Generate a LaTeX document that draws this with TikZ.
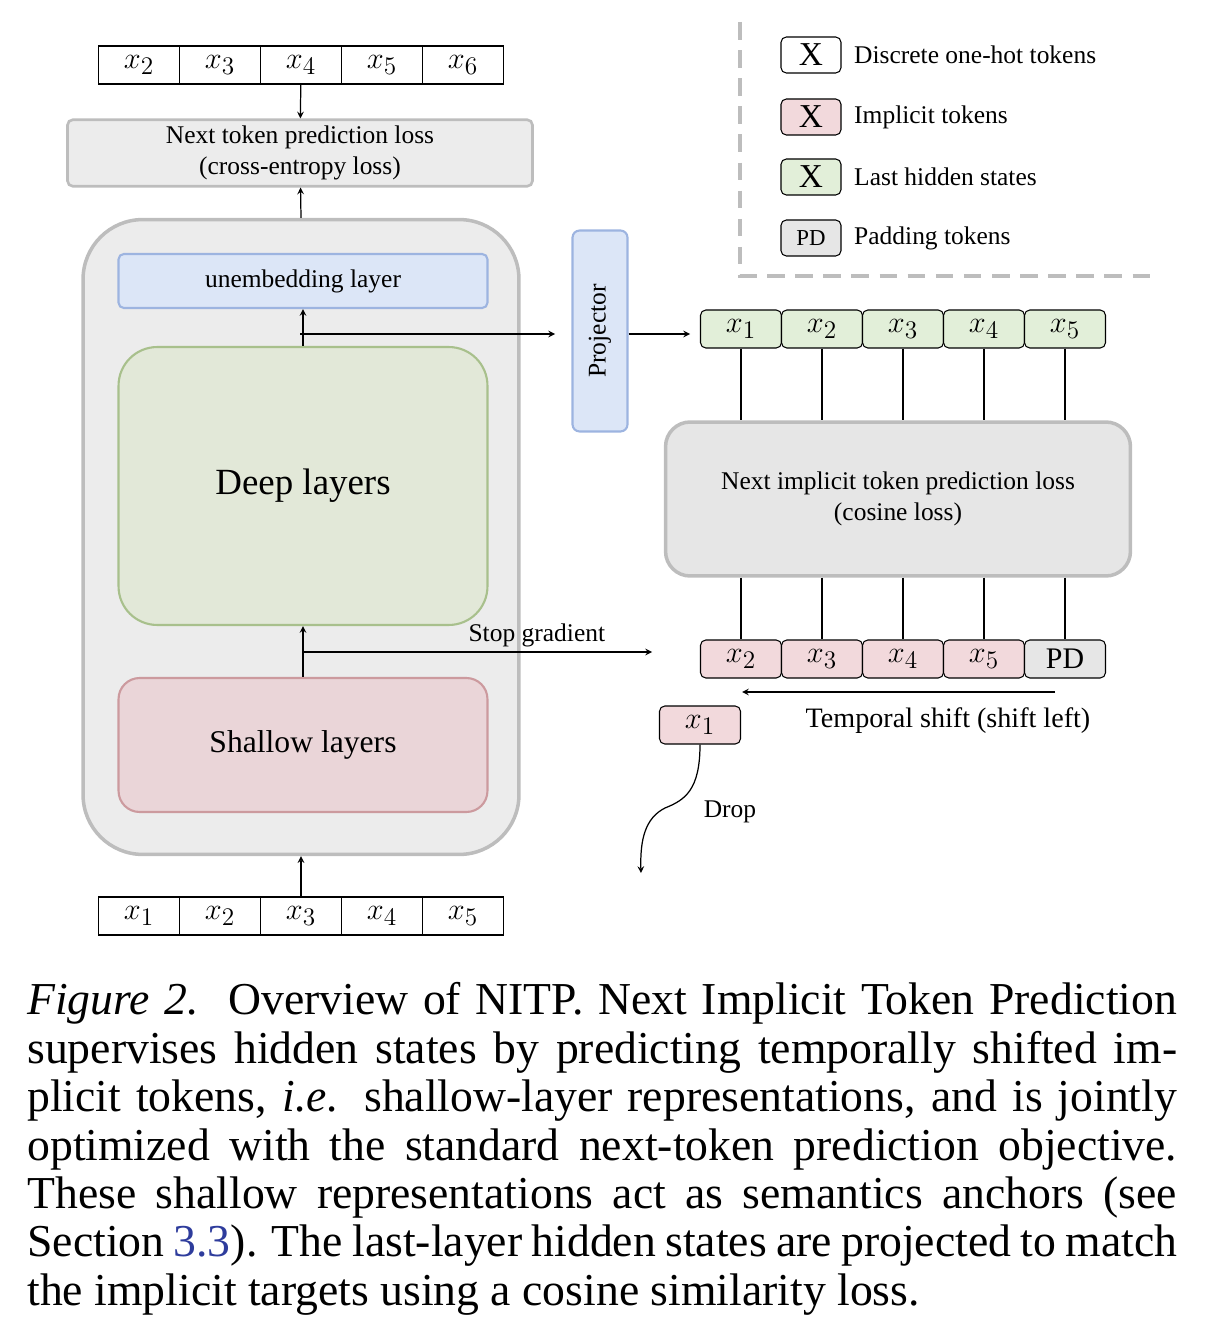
\documentclass[tikz,border=0pt]{standalone}
\usepackage{fontspec}
\setmainfont{Liberation Serif}
\usepackage{xcolor}
\usetikzlibrary{arrows}
\definecolor{outerfill}{HTML}{ECECEC}
\definecolor{outerdraw}{HTML}{BDBDBD}
\definecolor{bluefill}{HTML}{DCE6F7}
\definecolor{bluedraw}{HTML}{9DB4E0}
\definecolor{greenfill}{HTML}{E2E8D8}
\definecolor{greendraw}{HTML}{A8C08C}
\definecolor{redfill}{HTML}{EAD5D8}
\definecolor{reddraw}{HTML}{CC9A9E}
\definecolor{tokgreen}{HTML}{E2EFD9}
\definecolor{tokpink}{HTML}{F2D9DC}
\definecolor{tokgray}{HTML}{E6E6E6}
\definecolor{linkblue}{HTML}{2E3C9C}
\begin{document}
\begin{tikzpicture}[x=0.02cm,y=-0.02cm]
    	\tikzstyle{tok} = [draw, line width=0.6pt, minimum width=1.62cm, minimum height=0.76cm,
    		inner sep=0pt, font=\fontsize{19}{22}\selectfont]
    	\tikzstyle{rtok} = [tok, rounded corners=3pt]
    	\tikzstyle{block} = [draw, line width=1.2pt, rounded corners=22pt, align=center]
    	\tikzstyle{myarrow} = [-stealth, line width=0.7pt]
    	\tikzstyle{lbl} = [font=\fontsize{14.5}{18}\selectfont]
    	\useasboundingbox (0,0) rectangle (1206,1334);

        % left column
        \node[block, fill=outerfill, draw=outerdraw, line width=2pt, rounded corners=34pt,
        	minimum width=8.72cm, minimum height=12.7cm] (outer) at (301,537) {};
        \node[block, fill=bluefill, draw=bluedraw, rounded corners=3pt,
        	minimum width=7.38cm, minimum height=1.08cm, lbl] (unemb) at (303,281) {unembedding layer};
        \node[block, fill=greenfill, draw=greendraw,
        	minimum width=7.38cm, minimum height=5.56cm, font=\fontsize{21}{24}\selectfont] (deep) at (303,486) {Deep layers};
        \node[block, fill=redfill, draw=reddraw, rounded corners=12pt,
        	minimum width=7.38cm, minimum height=2.68cm, font=\fontsize{18}{20}\selectfont] (shallow) at (303,745) {Shallow layers};
        \node[block, fill=outerfill, draw=outerdraw, rounded corners=3pt, line width=1.5pt,
        	minimum width=9.3cm, minimum height=1.3cm, lbl] (ntp) at (300,153)
        	{Next token prediction loss\\(cross-entropy loss)};

        \foreach \i/\s in {1/2,2/3,3/4,4/5,5/6}
        	\node[tok] (top\i) at ({58+81*\i},65) {$x_{\s}$};
        \foreach \i in {1,...,5}
        	\node[tok] (bot\i) at ({58+81*\i},916) {$x_{\i}$};

        \draw[myarrow] (top3) -- (ntp);
        \draw[myarrow] (outer.north) -- (ntp);
        \draw[myarrow] (bot3) -- (outer.south);
        \draw[myarrow] (deep.north -| unemb) -- (unemb);
        \draw[myarrow] (shallow.north) -- (deep.south);
        \coordinate (tapup) at (300,334);
        \coordinate (tapdn) at (303,652);

        % right part
        \node[draw=bluedraw, fill=bluefill, line width=1.2pt, rounded corners=4pt,
        	minimum width=4.02cm, minimum height=1.1cm, rotate=90, lbl] (proj) at (600,331) {Projector};
        \draw[myarrow] (tapup) -- (555,334);
        \draw[myarrow] (proj.south) ++(0,3) -- (690,334);
        \draw[myarrow] (tapdn) -- (652,652)
        	node[lbl, pos=0.67, above=-1pt] (stopg) {Stop gradient};

        \foreach \i in {1,...,5}
        	\node[rtok, fill=tokgreen] (hid\i) at ({660+81*\i},329) {$x_{\i}$};
        \foreach \i/\s in {1/2,2/3,3/4,4/5}
        	\node[rtok, fill=tokpink] (tgt\i) at ({660+81*\i},659) {$x_{\s}$};
        \node[rtok, fill=tokgray, font=\fontsize{17}{20}\selectfont] (tgt5) at (1065,659) {PD};

        \node[draw=outerdraw, fill=tokgray, line width=2pt, rounded corners=14pt,
        	minimum width=9.3cm, minimum height=3.08cm, align=center, lbl] (cos) at (898,499)
        	{Next implicit token prediction loss\\(cosine loss)};
        \foreach \i in {1,...,5}{
        	\draw[line width=0.7pt] (hid\i) -- (hid\i |- cos.north);
        	\draw[line width=0.7pt] (cos.south -| tgt\i) -- (tgt\i);
        }

        \coordinate (shiftr) at (1055,692);
        \draw[myarrow] (shiftr) -- (742,692);
        \node[font=\fontsize{16}{19}\selectfont] (shiftl) at (948,721) {Temporal shift (shift left)};
        \node[rtok, fill=tokpink] (drop1) at (700,725) {$x_{1}$};
        \coordinate (dropend) at (641,873);
        \draw[myarrow] (drop1.south) .. controls (700,790) and (685,800) .. (665,808)
        	.. controls (645,818) and (640,840) .. (dropend);
        \node[lbl] (droplbl) at (730,812) {Drop};

        % legend
        \draw[outerdraw, line width=2pt, dash pattern=on 10pt off 6pt] (740,22) -- (740,276) -- (1152,276);
        \foreach \y/\f/\t/\c/\s in {55/white/Discrete one-hot tokens/X/19, 117/tokpink/Implicit tokens/X/19,
        	177/tokgreen/Last hidden states/X/19, 238/tokgray/Padding tokens/PD/13}{
        	\node[rtok, fill=\f, minimum width=1.2cm, minimum height=0.72cm,
        		font=\fontsize{\s}{20}\selectfont] (leg\y) at (811,\y) {\c};
        	\node[lbl, anchor=west] (legt\y) at (848,\y) {\t};
        }

        % caption
        \node[anchor=north west, text width=23cm, align=justify, inner sep=0pt,
        	font=\fontsize{26}{27.6}\selectfont] (caption) at (27,982)
        	{\hyphenpenalty=10000\exhyphenpenalty=10000\textit{Figure 2.}\ \ Overview of NITP. Next Implicit Token Prediction supervises hidden states by predicting temporally shifted implicit tokens, \textit{i.e.} shallow-layer representations, and is jointly optimized with the standard next-token prediction objective. These shallow representations act as semantics anchors (see Section \textcolor{linkblue}{3.3}). The last-layer hidden states are projected to match the implicit targets using a cosine similarity loss.};
\end{tikzpicture}
\end{document}
